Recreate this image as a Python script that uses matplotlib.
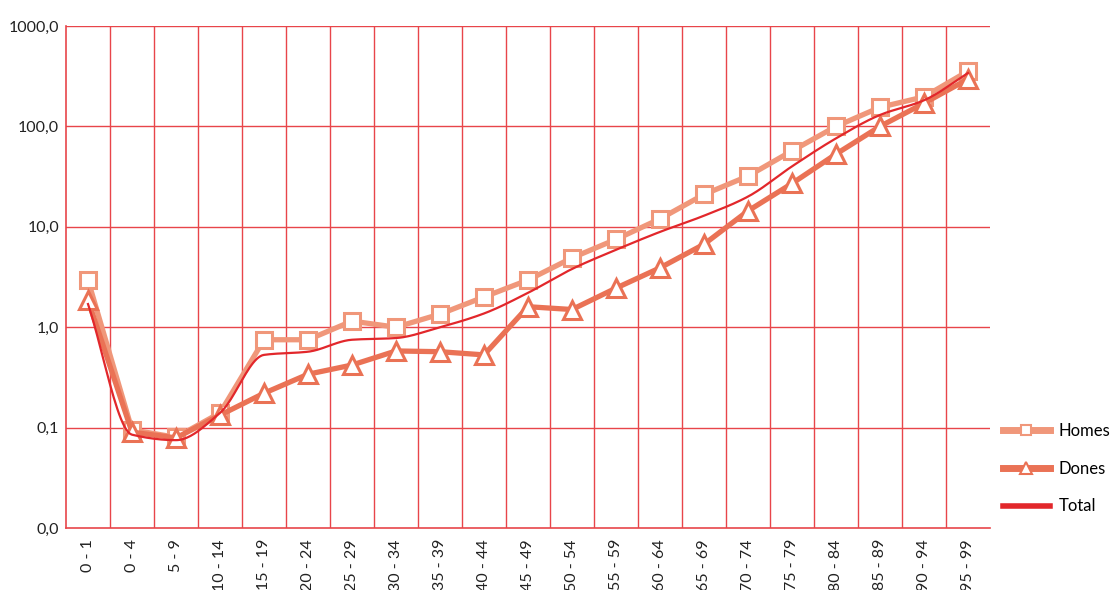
import numpy as np
import matplotlib
matplotlib.use("Agg")
import matplotlib.pyplot as plt
from matplotlib.lines import Line2D

categories = ["0 - 1", "0 - 4", "5 - 9", "10 - 14", "15 - 19", "20 - 24", "25 - 29",
              "30 - 34", "35 - 39", "40 - 44", "45 - 49", "50 - 54", "55 - 59",
              "60 - 64", "65 - 69", "70 - 74", "75 - 79", "80 - 84", "85 - 89",
              "90 - 94", "95 - 99"]
homes = [2.95, 0.095, 0.08, 0.14, 0.75, 0.75, 1.15, 1.0, 1.35, 2.0, 2.95,
         4.9, 7.5, 12.0, 21.0, 32.0, 57.0, 100.0, 155.0, 197.0, 355.0]
dones = [1.86, 0.09, 0.079, 0.133, 0.22, 0.34, 0.42, 0.58, 0.57, 0.53, 1.6,
         1.5, 2.45, 3.9, 6.7, 14.4, 27.0, 53.0, 100.0, 170.0, 296.0]
total = [1.7, 0.085, 0.075, 0.14, 0.53, 0.57, 0.75, 0.78, 1.0, 1.37, 2.2,
         3.8, 5.9, 8.9, 12.9, 20.0, 40.0, 76.0, 130.0, 182.0, 340.0]
ytick_vals = [0.01, 0.1, 1, 10, 100, 1000]
ytick_labels = ["0,0", "0,1", "1,0", "10,0", "100,0", "1000,0"]

C_HOMES = "#F0977A"
C_DONES = "#EA7255"
C_TOTAL = "#E2272B"
C_GRID = "#E8454A"

plt.rcParams['font.family'] = ['Lato', 'DejaVu Sans']

fig = plt.figure(figsize=(11.16, 5.90), dpi=100)
ax = fig.add_axes([66/1116, 1-528/590, (990-66)/1116, (528-26)/590])
ax.set_yscale('log')
ax.set_ylim(0.01, 1000)
ax.set_xlim(-0.5, len(categories) - 0.5)

x = np.arange(len(categories))

# grid
for yv in ytick_vals[1:]:
    ax.axhline(yv, color=C_GRID, lw=1.0, zorder=1)
for b in np.arange(0.5, len(categories) - 1, 1.0):
    ax.axvline(b, color=C_GRID, lw=1.0, zorder=1)

def smooth(xs, ys, n=24):
    """Monotone cubic (Fritsch-Carlson) through the points in log space."""
    xs = np.asarray(xs, float)
    ly = np.log10(ys)
    h = np.diff(xs)
    d = np.diff(ly) / h
    m = np.zeros_like(ly)
    m[0], m[-1] = d[0], d[-1]
    for i in range(1, len(ly) - 1):
        if d[i-1] * d[i] <= 0:
            m[i] = 0.0
        else:
            m[i] = 2.0 / (1.0/d[i-1] + 1.0/d[i])
    ox, oy = [], []
    for i in range(len(xs) - 1):
        t = np.linspace(0, 1, n, endpoint=False)
        h00 = 2*t**3 - 3*t**2 + 1
        h10 = t**3 - 2*t**2 + t
        h01 = -2*t**3 + 3*t**2
        h11 = t**3 - t**2
        ox.extend(xs[i] + t*h[i])
        oy.extend(h00*ly[i] + h10*h[i]*m[i] + h01*ly[i+1] + h11*h[i]*m[i+1])
    ox.append(xs[-1]); oy.append(ly[-1])
    return np.array(ox), 10**np.array(oy)

ax.plot(x, homes, color=C_HOMES, lw=3.8, marker='s', ms=12, mfc='white',
        mec=C_HOMES, mew=2.2, zorder=3, clip_on=False)
ax.plot(x, dones, color=C_DONES, lw=3.8, marker='^', ms=13, mfc='white',
        mec=C_DONES, mew=2.2, zorder=4, clip_on=False)
sx, sy = smooth(x, total)
ax.plot(sx, sy, color=C_TOTAL, lw=1.6, zorder=5)

for s in ['top', 'right']:
    ax.spines[s].set_visible(False)
for s in ['left', 'bottom']:
    ax.spines[s].set_color(C_GRID)
    ax.spines[s].set_linewidth(1.2)

ax.set_yticks(ytick_vals)
ax.set_yticklabels(ytick_labels)
ax.yaxis.set_minor_locator(matplotlib.ticker.NullLocator())
ax.set_xticks(x)
ax.set_xticklabels(categories, rotation=90)
ax.tick_params(axis='both', length=0, colors='#222222')
ax.tick_params(axis='x', labelsize=11.5, pad=8)
ax.tick_params(axis='y', labelsize=11.5, pad=5)

handles = [
    Line2D([], [], color=C_HOMES, lw=5, marker='s', ms=7, mfc='white', mec=C_HOMES, mew=1.5),
    Line2D([], [], color=C_DONES, lw=5, marker='^', ms=8, mfc='white', mec=C_DONES, mew=1.5),
    Line2D([], [], color=C_TOTAL, lw=4),
]
fig.legend(handles, ["Homes", "Dones", "Total"], loc='upper left',
           bbox_to_anchor=(1003/1116, 1-423/590), frameon=False, fontsize=12,
           handlelength=2.8, labelspacing=1.3, handletextpad=0.55,
           borderpad=0, borderaxespad=0)

fig.savefig("out.png", dpi=100)
